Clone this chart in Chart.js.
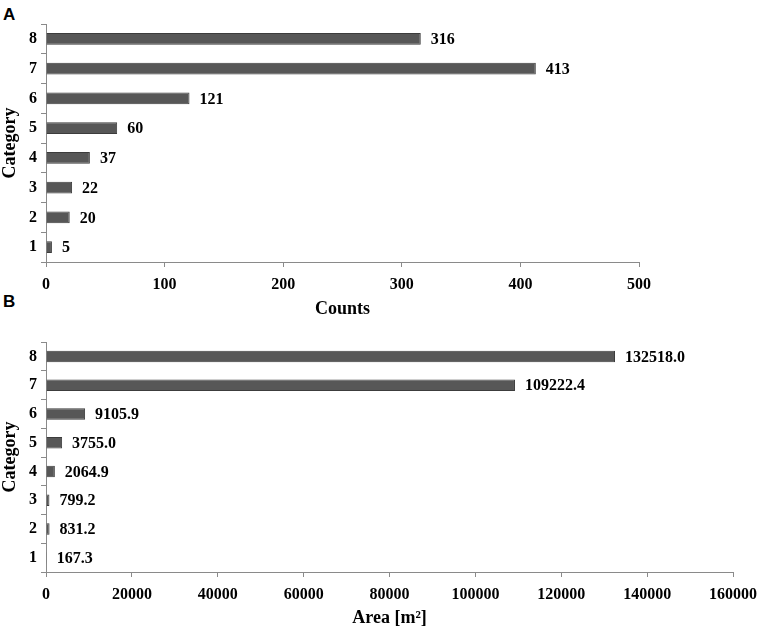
<!DOCTYPE html>
<html>
<head>
<meta charset="utf-8">
<script src="https://cdn.jsdelivr.net/npm/chart.js@4"></script>
<style>
	body { margin: 0; background: #fff; width: 765px; height: 636px; position: relative; overflow: hidden; }
	.panel { position: absolute; left: 0; }
	.letter { position: absolute; font-family: "Liberation Sans", Arial, sans-serif; font-weight: bold; font-size: 17px; color: #000; }
</style>
</head>
<body>
<div class="letter" style="left:3px; top:5px;">A</div>
<div class="letter" style="left:3px; top:292px;">B</div>
<div class="panel" style="top:0px;"><canvas id="chartA" width="765" height="320"></canvas></div>
<div class="panel" style="top:320px;"><canvas id="chartB" width="765" height="316"></canvas></div>
<script>
// data
const categories = ["1", "2", "3", "4", "5", "6", "7", "8"];
const counts = [5, 20, 22, 37, 60, 121, 413, 316];
const areas = [167.3, 831.2, 799.2, 2064.9, 3755.0, 9105.9, 109222.4, 132518.0];

const serif = "'Liberation Serif', 'Times New Roman', serif";
const axisGrey = "#8a8a8a";

/**
 * Writes the value next to the end of each bar
 */
const valueLabels = {
	id: "valueLabels",
	afterDatasetsDraw(chart, args, opts) {
		const ctx = chart.ctx;
		const meta = chart.getDatasetMeta(0);
		const data = chart.data.datasets[0].data;
		ctx.save();
		ctx.font = "bold 16px " + serif;
		ctx.fillStyle = "#000";
		ctx.textBaseline = "middle";
		ctx.textAlign = "left";
		meta.data.forEach((bar, i) => {
			ctx.fillText(opts.format(data[i]), bar.x + 10, bar.y + 1);
		});
		ctx.restore();
	}
};

/**
 * Build one horizontal bar panel
 */
function makePanel(canvasId, values, maxX, step, title, pad, xHeight, titlePadBottom, fmt) {
	new Chart(document.getElementById(canvasId), {
		type: "bar",
		data: {
			labels: categories,
			datasets: [{
				data: values,
				backgroundColor: "#575757",
				borderColor: "#3c3c3c",
				borderWidth: 1,
				barPercentage: 0.4,
				categoryPercentage: 1
			}]
		},
		options: {
			indexAxis: "y",
			responsive: false,
			animation: false,
			layout: { padding: pad },
			plugins: {
				legend: { display: false },
				tooltip: { enabled: false },
				valueLabels: { format: fmt }
			},
			scales: {
				x: {
					min: 0,
					max: maxX,
					grid: { drawOnChartArea: false, color: axisGrey, tickLength: 5 },
					border: { color: axisGrey },
					ticks: {
						stepSize: step,
						padding: 8,
						color: "#000",
						font: { family: serif, size: 16, weight: "bold" },
						callback: v => String(v)
					},
					title: {
						display: true,
						text: title,
						color: "#000",
						font: { family: serif, size: 18, weight: "bold" },
						padding: { top: 0, bottom: titlePadBottom }
					},
					afterFit: s => { s.height = xHeight; }
				},
				y: {
					reverse: true,
					grid: { drawOnChartArea: false, color: axisGrey, tickLength: 5 },
					border: { color: axisGrey },
					ticks: {
						padding: 4,
						color: "#000",
						font: { family: serif, size: 16, weight: "bold" }
					},
					title: {
						display: true,
						text: "Category",
						color: "#000",
						font: { family: serif, size: 18, weight: "bold" },
						padding: 0
					},
					afterFit: s => { s.width = 46; }
				}
			}
		},
		plugins: [valueLabels]
	});
}

makePanel("chartA", counts, 500, 100, "Counts",
	{ top: 24, right: 126, bottom: 0, left: 0 }, 58, 0, v => String(v));
makePanel("chartB", areas, 160000, 20000, "Area [m\u00B2]",
	{ top: 22, right: 29, bottom: 0, left: 0 }, 64, 7, v => v.toFixed(1));
</script>
</body>
</html>
